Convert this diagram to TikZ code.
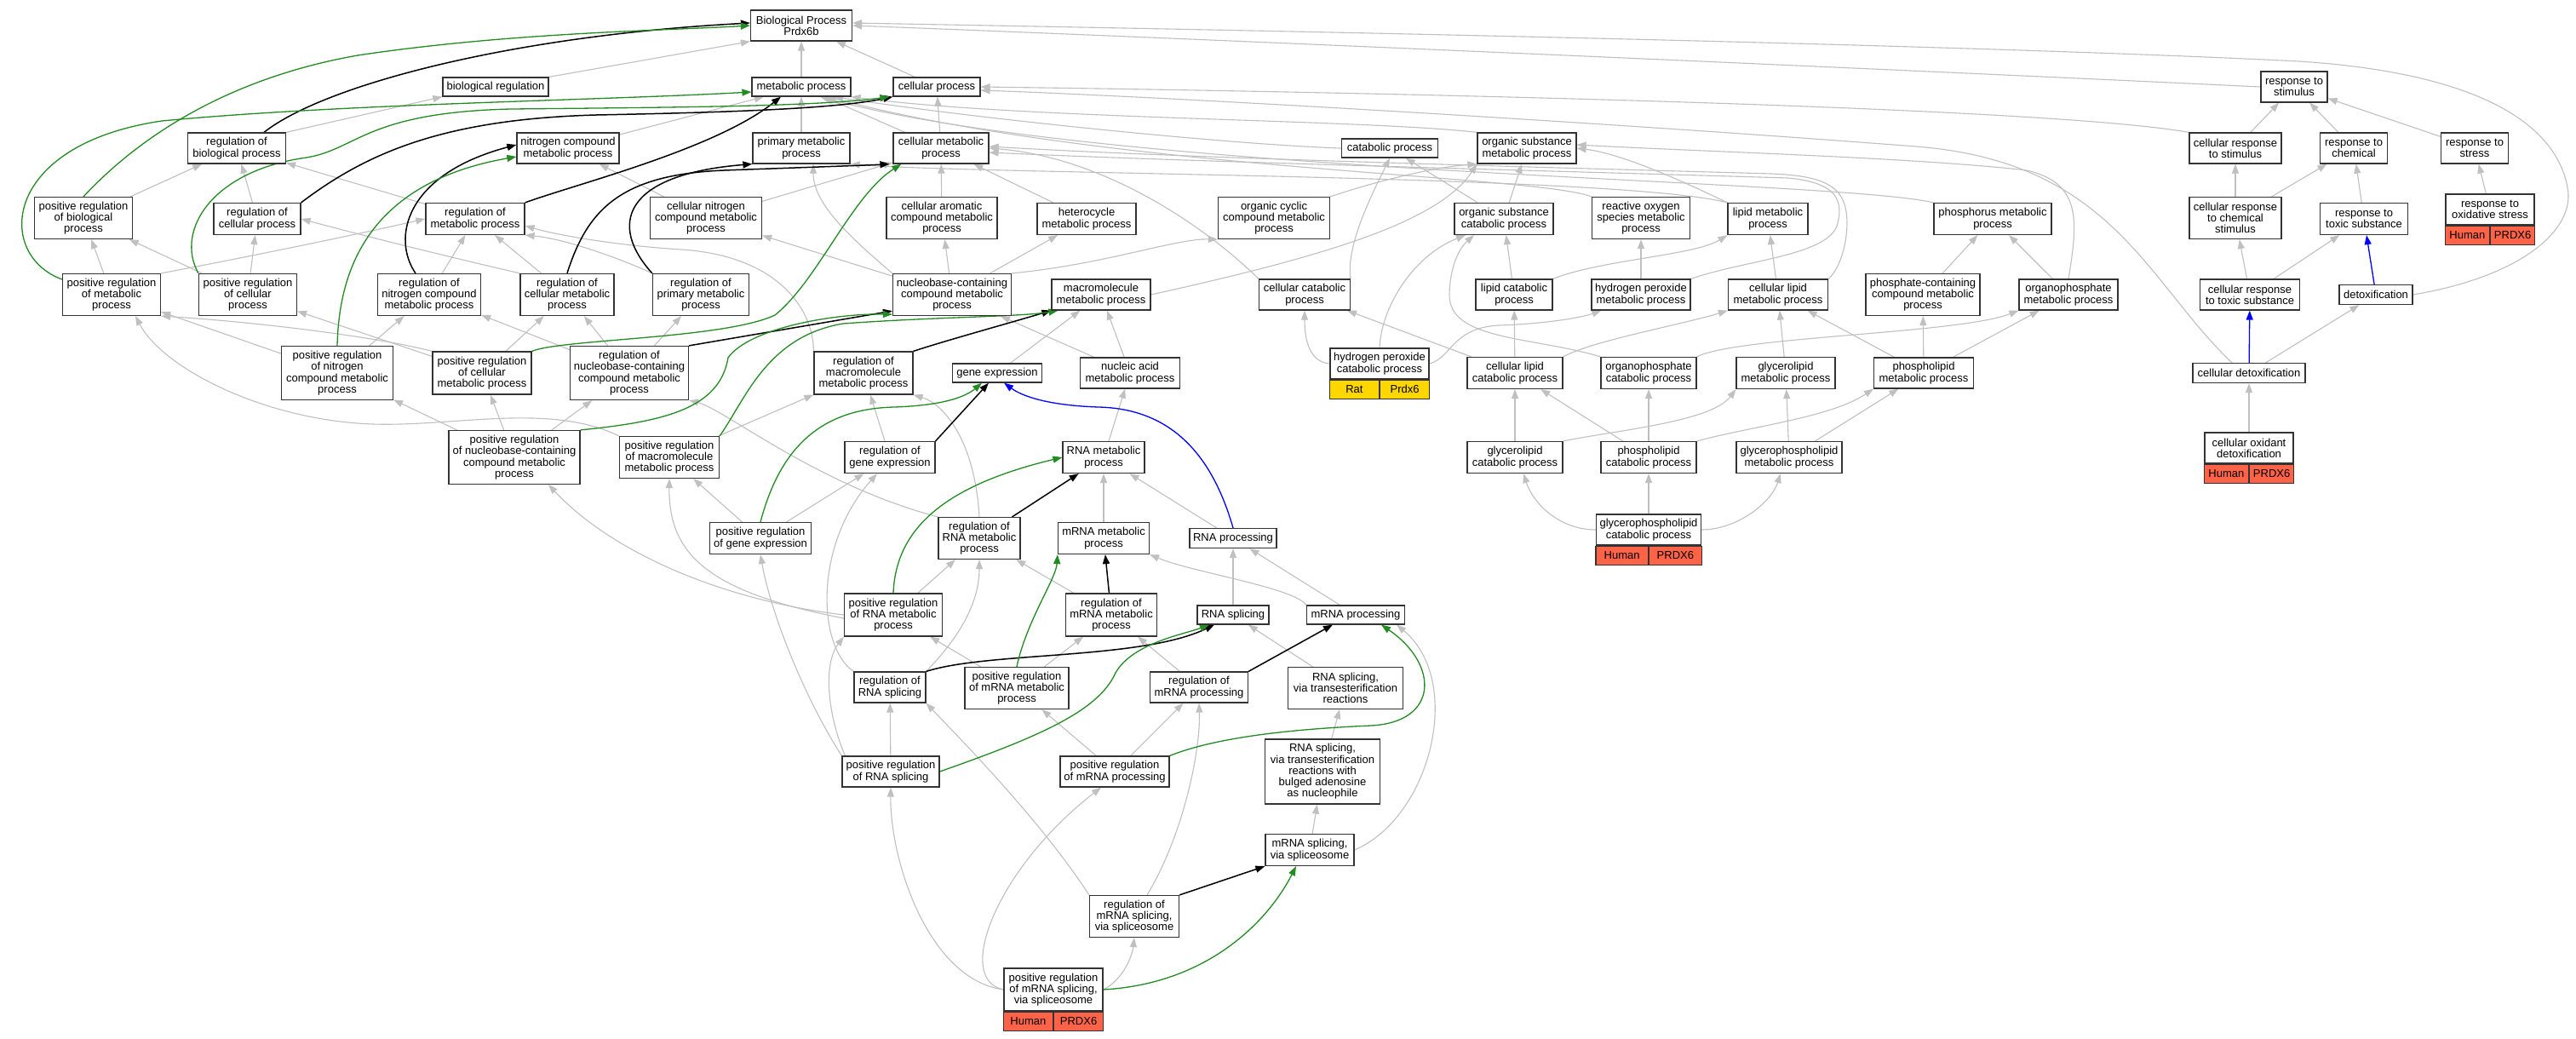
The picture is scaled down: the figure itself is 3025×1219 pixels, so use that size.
\documentclass[tikz,border=0pt]{standalone}
\usepackage{fontspec}
\setmainfont{Liberation Sans}
\usepackage{tikz}
\usetikzlibrary{arrows.meta, positioning, backgrounds}
\definecolor{isagray}{HTML}{C0C0C0}
\definecolor{posgreen}{HTML}{228B22}
\definecolor{humanred}{HTML}{FF6347}
\definecolor{ratgold}{HTML}{FFD700}
\tikzstyle{term} = [rectangle, draw=black!80, line width=1.2pt, fill=white, align=center, inner xsep=1pt, inner ysep=1pt, font=\fontsize{13}{13.3}\selectfont]
\tikzstyle{genecell} = [rectangle, draw=black!80, line width=1.2pt, inner sep=0pt, minimum height=22, font=\fontsize{13}{13.3}\selectfont]
\tikzstyle{isa} = [draw=isagray, line width=1.1pt, -{Triangle[length=11pt, width=8pt]}]
\tikzstyle{regl} = [draw=black, line width=1.5pt, -{Triangle[length=11pt, width=8pt]}]
\tikzstyle{posreg} = [draw=posgreen, line width=1.3pt, -{Triangle[length=11pt, width=8pt]}]
\tikzstyle{partof} = [draw=blue, line width=1.3pt, -{Triangle[length=11pt, width=8pt]}]
\begin{document}
\begin{tikzpicture}[x=1pt, y=-1pt]
    \useasboundingbox (0,0) rectangle (3025,1219);

    % top rows
    \node[term, minimum width=119, minimum height=36] (bp) at (941,30) {Biological Process\\Prdx6b};
    \node[term, minimum width=124, minimum height=22] (bioreg) at (582,102) {biological regulation};
    \node[term, minimum width=116, minimum height=22] (metab) at (941,102) {metabolic process};
    \node[term, minimum width=102, minimum height=22] (cellp) at (1100,102) {cellular process};
    \node[term, minimum width=78, minimum height=36] (respstim) at (2694,102) {response to\\stimulus};

    \node[term, minimum width=115, minimum height=36] (regbio) at (278,174) {regulation of\\biological process};
    \node[term, minimum width=120, minimum height=36] (nitro) at (667,174) {nitrogen compound\\metabolic process};
    \node[term, minimum width=114, minimum height=36] (primary) at (941,174) {primary metabolic\\process};
    \node[term, minimum width=112, minimum height=36] (cellmet) at (1105,174) {cellular metabolic\\process};
    \node[term, minimum width=113, minimum height=22] (catab) at (1632,174) {catabolic process};
    \node[term, minimum width=116, minimum height=36] (orgsub) at (1793,174) {organic substance\\metabolic process};
    \node[term, minimum width=108, minimum height=36] (cellrespstim) at (2625,174) {cellular response\\to stimulus};
    \node[term, minimum width=79, minimum height=36] (respchem) at (2764,174) {response to\\chemical};
    \node[term, minimum width=79, minimum height=36] (respstress) at (2906,174) {response to\\stress};

    \node[term, minimum width=115, minimum height=49] (posregbio) at (98,256) {positive regulation\\of biological\\process};
    \node[term, minimum width=102, minimum height=37] (regcell) at (302,257) {regulation of\\cellular process};
    \node[term, minimum width=116, minimum height=37] (regmet) at (558,257) {regulation of\\metabolic process};
    \node[term, minimum width=131, minimum height=49] (cellnitro) at (829,256) {cellular nitrogen\\compound metabolic\\process};
    \node[term, minimum width=130, minimum height=49] (cellarom) at (1106,256) {cellular aromatic\\compound metabolic\\process};
    \node[term, minimum width=116, minimum height=37] (hetero) at (1276,257) {heterocycle\\metabolic process};
    \node[term, minimum width=131, minimum height=49] (orgcyc) at (1496,256) {organic cyclic\\compound metabolic\\process};
    \node[term, minimum width=116, minimum height=37] (orgsubcat) at (1766,257) {organic substance\\catabolic process};
    \node[term, minimum width=115, minimum height=49] (ros) at (1927,256) {reactive oxygen\\species metabolic\\process};
    \node[term, minimum width=94, minimum height=37] (lipid) at (2076,257) {lipid metabolic\\process};
    \node[term, minimum width=138, minimum height=37] (phosphorus) at (2340,257) {phosphorus metabolic\\process};
    \node[term, minimum width=108, minimum height=49] (cellrespchem) at (2625,256) {cellular response\\to chemical\\stimulus};
    \node[term, minimum width=103, minimum height=37] (resptoxic) at (2776,257) {response to\\toxic substance};
    \node[term, minimum width=104, minimum height=36] (respox) at (2924,246) {response to\\oxidative stress};
    \node[genecell, fill=humanred, minimum width=52, anchor=north east] (respoxsp) at (respox.south) {Human};
    \node[genecell, fill=humanred, minimum width=52, anchor=north west] (respoxgn) at (respox.south) {PRDX6};

    \node[term, minimum width=115, minimum height=49] (posregmet) at (131,346) {positive regulation\\of metabolic\\process};
    \node[term, minimum width=115, minimum height=49] (posregcell) at (291,346) {positive regulation\\of cellular\\process};
    \node[term, minimum width=121, minimum height=49] (regnitro) at (504,346) {regulation of\\nitrogen compound\\metabolic process};
    \node[term, minimum width=110, minimum height=49] (regcellmet) at (666,346) {regulation of\\cellular metabolic\\process};
    \node[term, minimum width=113, minimum height=49] (regprim) at (823,346) {regulation of\\primary metabolic\\process};
    \node[term, minimum width=139, minimum height=49] (nucleo) at (1118,346) {nucleobase-containing\\compound metabolic\\process};
    \node[term, minimum width=116, minimum height=36] (macro) at (1293,346) {macromolecule\\metabolic process};
    \node[term, minimum width=107, minimum height=36] (cellcat) at (1532,346) {cellular catabolic\\process};
    \node[term, minimum width=90, minimum height=36] (lipidcat) at (1778,346) {lipid catabolic\\process};
    \node[term, minimum width=116, minimum height=36] (hpmet) at (1927,346) {hydrogen peroxide\\metabolic process};
    \node[term, minimum width=117, minimum height=36] (celllipid) at (2088,346) {cellular lipid\\metabolic process};
    \node[term, minimum width=134, minimum height=49] (phosphate) at (2258,346) {phosphate-containing\\compound metabolic\\process};
    \node[term, minimum width=116, minimum height=36] (orgphos) at (2429,346) {organophosphate\\metabolic process};
    \node[term, minimum width=117, minimum height=36] (cellresptox) at (2642,346) {cellular response\\to toxic substance};
    \node[term, minimum width=86, minimum height=23] (detox) at (2790,346) {detoxification};

    % middle rows
    \node[term, minimum width=131, minimum height=63] (posregnitro) at (396,438) {positive regulation\\of nitrogen\\compound metabolic\\process};
    \node[term, minimum width=116, minimum height=50] (posregcellmet) at (566,438) {positive regulation\\of cellular\\metabolic process};
    \node[term, minimum width=139, minimum height=63] (regnucleo) at (739,438) {regulation of\\nucleobase-containing\\compound metabolic\\process};
    \node[term, minimum width=116, minimum height=50] (regmacro) at (1014,438) {regulation of\\macromolecule\\metabolic process};
    \node[term, minimum width=105, minimum height=22] (geneexp) at (1171,438) {gene expression};
    \node[term, minimum width=117, minimum height=36] (nucacid) at (1327,438) {nucleic acid\\metabolic process};
    \node[term, minimum width=116, minimum height=36] (hpcat) at (1620,427) {hydrogen peroxide\\catabolic process};
    \node[genecell, fill=ratgold, minimum width=58, anchor=north east] (hpcatsp) at (hpcat.south) {Rat};
    \node[genecell, fill=ratgold, minimum width=58, anchor=north west] (hpcatgn) at (hpcat.south) {Prdx6};
    \node[term, minimum width=112, minimum height=37] (celllipidcat) at (1779,438) {cellular lipid\\catabolic process};
    \node[term, minimum width=112, minimum height=37] (orgphoscat) at (1936,438) {organophosphate\\catabolic process};
    \node[term, minimum width=116, minimum height=37] (glycerolipid) at (2097,438) {glycerolipid\\metabolic process};
    \node[term, minimum width=117, minimum height=36] (phospholipid) at (2259,438) {phospholipid\\metabolic process};
    \node[term, minimum width=132, minimum height=23] (celldetox) at (2641,438) {cellular detoxification};

    \node[term, minimum width=154, minimum height=63] (posregnucleo) at (604,537) {positive regulation\\of nucleobase-containing\\compound metabolic\\process};
    \node[term, minimum width=117, minimum height=49] (posregmacro) at (786,537) {positive regulation\\of macromolecule\\metabolic process};
    \node[term, minimum width=106, minimum height=37] (reggene) at (1045,537) {regulation of\\gene expression};
    \node[term, minimum width=96, minimum height=37] (rnamet) at (1296,537) {RNA metabolic\\process};
    \node[term, minimum width=112, minimum height=37] (glycerolipidcat) at (1779,537) {glycerolipid\\catabolic process};
    \node[term, minimum width=112, minimum height=37] (phospholipidcat) at (1936,537) {phospholipid\\catabolic process};
    \node[term, minimum width=124, minimum height=37] (glycerophos) at (2101,537) {glycerophospholipid\\metabolic process};
    \node[term, minimum width=104, minimum height=36] (celloxdetox) at (2641,526) {cellular oxidant\\detoxification};
    \node[genecell, fill=humanred, minimum width=52, anchor=north east] (celloxdetoxsp) at (celloxdetox.south) {Human};
    \node[genecell, fill=humanred, minimum width=52, anchor=north west] (celloxdetoxgn) at (celloxdetox.south) {PRDX6};

    \node[term, minimum width=119, minimum height=37] (posreggene) at (893,632) {positive regulation\\of gene expression};
    \node[term, minimum width=96, minimum height=49] (regrna) at (1150,632) {regulation of\\RNA metabolic\\process};
    \node[term, minimum width=107, minimum height=37] (mrnamet) at (1296,632) {mRNA metabolic\\process};
    \node[term, minimum width=102, minimum height=23] (rnaproc) at (1448,632) {RNA processing};
    \node[term, minimum width=123, minimum height=36] (glycerophoscat) at (1936,622) {glycerophospholipid\\catabolic process};
    \node[genecell, fill=humanred, minimum width=61.5, anchor=north east] (glycerophoscatsp) at (glycerophoscat.south) {Human};
    \node[genecell, fill=humanred, minimum width=61.5, anchor=north west] (glycerophoscatgn) at (glycerophoscat.south) {PRDX6};

    % lower rows
    \node[term, minimum width=115, minimum height=50] (posregrna) at (1049,722) {positive regulation\\of RNA metabolic\\process};
    \node[term, minimum width=107, minimum height=50] (regmrnamet) at (1305,722) {regulation of\\mRNA metabolic\\process};
    \node[term, minimum width=84, minimum height=22] (rnasplice) at (1448,722) {RNA splicing};
    \node[term, minimum width=115, minimum height=22] (mrnaproc) at (1592,722) {mRNA processing};

    \node[term, minimum width=84, minimum height=36] (regrnasplice) at (1045,807) {regulation of\\RNA splicing};
    \node[term, minimum width=122, minimum height=49] (posregmrnamet) at (1194,808) {positive regulation\\of mRNA metabolic\\process};
    \node[term, minimum width=115, minimum height=36] (regmrnaproc) at (1408,807) {regulation of\\mRNA processing};
    \node[term, minimum width=135, minimum height=49] (transest) at (1580,808) {RNA splicing,\\via transesterification\\reactions};

    \node[term, minimum width=114, minimum height=36] (posregrnasplice) at (1046,906) {positive regulation\\of RNA splicing};
    \node[term, minimum width=128, minimum height=36] (posregmrnaproc) at (1309,906) {positive regulation\\of mRNA processing};
    \node[term, minimum width=135, minimum height=76] (bulged) at (1553,906) {RNA splicing,\\via transesterification\\reactions with\\bulged adenosine\\as nucleophile};
    \node[term, minimum width=104, minimum height=37] (spliceo) at (1538,998) {mRNA splicing,\\via spliceosome};
    \node[term, minimum width=105, minimum height=49] (regsplice) at (1332,1076) {regulation of\\mRNA splicing,\\via spliceosome};
    \node[term, minimum width=116, minimum height=50] (posregsplice) at (1237,1162) {positive regulation\\of mRNA splicing,\\via spliceosome};
    \node[genecell, fill=humanred, minimum width=58, anchor=north east] (posregsplicesp) at (posregsplice.south) {Human};
    \node[genecell, fill=humanred, minimum width=58, anchor=north west] (posregsplicegn) at (posregsplice.south) {PRDX6};

    \begin{scope}[on background layer]
    \fill[white] (0,0) rectangle (3025,1219);

    % is_a
    \draw[isa] (bioreg.north east) -- (bp.south west);
    \draw[isa] (metab) -- (bp);
    \draw[isa] (cellp) -- (bp);
    \draw[isa] (respstim.west) .. controls (2300,85) and (1400,45) .. (bp.east);
    \draw[isa] (detox.east) .. controls (2960,325) and (3025,270) .. (3015,220) .. controls (3000,140) and (2900,85) .. (2700,72) .. controls (2300,52) and (1500,36) .. ([yshift=3]bp.east);
    \draw[isa] (regbio.north east) -- (bioreg.south west);
    \draw[isa] (posregbio) -- (regbio);
    \draw[isa] (nitro) -- (metab);
    \draw[isa] (primary) -- (metab);
    \draw[isa] (cellmet) -- (metab);
    \draw[isa] (cellmet) -- (cellp);
    \draw[isa] (regcell) -- (regbio);
    \draw[isa] (regmet) -- (regbio);
    \draw[isa] (posregmet) -- (posregbio);
    \draw[isa] (posregmet.north east) .. controls (300,300) and (420,275) .. (regmet.west);
    \draw[isa] (posregcell) -- (posregbio);
    \draw[isa] (posregcell) -- (regcell);
    \draw[isa] (regnitro) -- (regmet);
    \draw[isa] (regcellmet) -- (regmet);
    \draw[isa] (regcellmet.north west) .. controls (520,300) and (420,275) .. (regcell.east);
    \draw[isa] (regprim.north west) .. controls (720,300) and (660,280) .. (regmet.south east);
    \draw[isa] (cellnitro) -- (nitro);
    \draw[isa] (cellnitro) -- (cellmet);
    \draw[isa] (cellarom) -- (cellmet);
    \draw[isa] (hetero) -- (cellmet);
    \draw[isa] (orgcyc.north east) .. controls (1640,205) and (1700,195) .. (orgsub.south west);
    \draw[isa] (nucleo) -- (cellnitro);
    \draw[isa] (nucleo) -- (cellarom);
    \draw[isa] (nucleo) -- (hetero);
    \draw[isa] (nucleo.north east) .. controls (1300,310) and (1380,280) .. (orgcyc.south west);
    \draw[isa] (nucleo.north west) .. controls (1000,280) and (955,240) .. ([xshift=14]primary.south);
    \draw[isa] (macro.east) .. controls (1560,300) and (1690,260) .. (orgsub.south west);
    \draw[isa] (cellcat.north east) .. controls (1580,290) and (1610,230) .. (catab.south);
    \draw[isa] (cellcat.north west) .. controls (1420,270) and (1300,185) .. (cellmet.east);
    \draw[isa] (orgsubcat) -- (catab);
    \draw[isa] (orgsubcat) -- (orgsub);
    \draw[isa] (ros.north west) .. controls (1800,205) and (1300,200) .. ([xshift=30]metab.south);
    \draw[isa] (catab.west) .. controls (1450,170) and (1150,140) .. ([xshift=38]metab.south);
    \draw[isa] (orgsub.north west) .. controls (1600,140) and (1200,140) .. (metab.south east);
    \draw[isa] (phosphorus.north west) .. controls (2150,210) and (1300,205) .. ([xshift=22]metab.south);
    \draw[isa] (lipid.north west) .. controls (1960,205) and (1900,180) .. (orgsub.east);
    \draw[isa] (lipid.north west) .. controls (1900,205) and (1150,205) .. (primary.south east);
    \draw[isa] (orgphos.north) .. controls (2440,260) and (2445,215) .. (2380,200) .. controls (2250,185) and (2000,178) .. ([yshift=4]orgsub.east);
    \draw[isa] (orgphos) -- (phosphorus);
    \draw[isa] (phosphate) -- (phosphorus);
    \draw[isa] (lipidcat) -- (orgsubcat);
    \draw[isa] (lipidcat.north east) .. controls (1880,305) and (1990,300) .. (lipid.south west);
    \draw[isa] (hpmet) -- (ros);
    \draw[isa] (hpmet.north east) .. controls (2050,305) and (2150,300) .. (2158,262) .. controls (2166,230) and (2150,214) .. (2100,209) .. controls (1800,200) and (1400,190) .. ([yshift=-5]cellmet.east);
    \draw[isa] (celllipid.north east) .. controls (2165,312) and (2174,265) .. (2166,240) .. controls (2158,214) and (2130,206) .. (2080,204) .. controls (1800,196) and (1400,186) .. ([yshift=2]cellmet.east);
    \draw[isa] (celllipid) -- (lipid);
    \draw[isa] (cellrespstim.north west) .. controls (2400,125) and (1600,108) .. (cellp.east);
    \draw[isa] ([xshift=-20]celldetox.north) .. controls (2520,330) and (2480,190) .. (2250,172) .. controls (1900,145) and (1400,115) .. ([yshift=-4]cellp.east);
    \draw[isa] (cellrespstim) -- (respstim);
    \draw[isa] (respchem) -- (respstim);
    \draw[isa] (respstress) -- (respstim);
    \draw[isa] (cellrespchem) -- (cellrespstim);
    \draw[isa] (cellrespchem) -- (respchem);
    \draw[isa] (resptoxic) -- (respchem);
    \draw[isa] (respox) -- (respstress);
    \draw[isa] (cellresptox) -- (cellrespchem);
    \draw[isa] (cellresptox) -- (resptoxic);
    \draw[isa] (celldetox) -- (detox);
    \draw[isa] (celloxdetox) -- (celldetox);

    \draw[isa] (geneexp) -- (macro);
    \draw[isa] (nucacid) -- (nucleo);
    \draw[isa] (nucacid) -- (macro);
    \draw[isa] (rnamet) -- (nucacid);
    \draw[isa] (mrnamet) -- (rnamet);
    \draw[isa] (rnaproc) -- (rnamet);
    \draw[isa] (rnasplice) -- (rnaproc);
    \draw[isa] (mrnaproc) -- (rnaproc);
    \draw[isa] (mrnaproc.north west) .. controls (1520,690) and (1400,672) .. (mrnamet.south east);
    \draw[isa] (transest) -- (rnasplice);
    \draw[isa] (bulged) -- (transest);
    \draw[isa] (spliceo) -- (bulged);
    \draw[isa] (spliceo.east) .. controls (1680,960) and (1720,800) .. ([xshift=-10]mrnaproc.south east);

    \draw[isa] (posregnitro) -- (posregmet);
    \draw[isa] (posregnitro) -- (regnitro);
    \draw[isa] (posregcellmet) -- (posregcell);
    \draw[isa] (posregcellmet.north west) .. controls (440,395) and (300,378) .. (posregmet.south east);
    \draw[isa] (posregcellmet) -- (regcellmet);
    \draw[isa] (regnucleo) -- (regnitro);
    \draw[isa] (regnucleo) -- (regcellmet);
    \draw[isa] (regnucleo) -- (regprim);
    \draw[isa] (posregnucleo) -- (posregnitro);
    \draw[isa] (posregnucleo) -- (posregcellmet);
    \draw[isa] (posregnucleo) -- (regnucleo);
    \draw[isa] (posregmacro.north west) .. controls (640,470) and (520,505) .. (420,497) .. controls (300,488) and (190,430) .. ([xshift=28]posregmet.south);
    \draw[isa] (posregmacro) -- (regmacro);
    \draw[isa] (regmacro.north west) .. controls (955,360) and (910,300) .. (800,293) .. controls (720,288) and (650,275) .. ([yshift=-8]regmet.east);
    \draw[isa] (reggene) -- (regmacro);
    \draw[isa] (posreggene) -- (reggene);
    \draw[isa] (posreggene) -- (posregmacro);
    \draw[isa] (regrna.north west) .. controls (960,570) and (850,480) .. (regnucleo.south east);
    \draw[isa] (regrna.north) .. controls (1145,520) and (1110,475) .. (regmacro.south east);
    \draw[isa] (posregrna) -- (regrna);
    \draw[isa] (posregrna.west) .. controls (850,705) and (720,650) .. ([xshift=40]posregnucleo.south);
    \draw[isa] ([yshift=-4]posregrna.west) .. controls (830,695) and (785,650) .. (posregmacro.south);
    \draw[isa] (regmrnamet) -- (regrna);
    \draw[isa] (posregmrnamet) -- (posregrna);
    \draw[isa] (posregmrnamet) -- (regmrnamet);
    \draw[isa] (regrnasplice.north east) .. controls (1110,765) and (1150,720) .. (regrna.south);
    \draw[isa] (regrnasplice.north west) .. controls (960,760) and (955,640) .. ([xshift=-15]reggene.south);
    \draw[isa] (posregrnasplice) -- (regrnasplice);
    \draw[isa] (posregrnasplice.north west) .. controls (945,820) and (905,720) .. (posreggene.south);
    \draw[isa] ([xshift=4]posregrnasplice.north west) .. controls (972,840) and (966,780) .. (posregrna.south west);
    \draw[isa] (regmrnaproc) -- (regmrnamet);
    \draw[isa] (posregmrnaproc) -- (posregmrnamet);
    \draw[isa] (posregmrnaproc) -- (regmrnaproc);
    \draw[isa] (regsplice.north west) .. controls (1220,960) and (1120,860) .. (regrnasplice.south east);
    \draw[isa] ([xshift=15]regsplice.north) .. controls (1390,980) and (1410,880) .. (regmrnaproc.south);
    \draw[isa] (posregsplice.west) .. controls (1090,1150) and (1045,1010) .. (posregrnasplice.south);
    \draw[isa] (posregsplice.west) .. controls (1120,1150) and (1170,1020) .. ([xshift=-16]posregmrnaproc.south);
    \draw[isa] (posregsplice.east) .. controls (1320,1150) and (1330,1120) .. (regsplice.south);

    \draw[isa] (celllipidcat) -- (cellcat);
    \draw[isa] (celllipidcat) -- (lipidcat);
    \draw[isa] (celllipidcat.north east) .. controls (1870,400) and (1980,380) .. (celllipid.south west);
    \draw[isa] (orgphoscat.north west) .. controls (1800,395) and (1700,400) .. (1702,345) .. controls (1703,310) and (1715,290) .. ([xshift=-35]orgsubcat.south);
    \draw[isa] (orgphoscat.north east) .. controls (2040,395) and (2300,392) .. (orgphos.south west);
    \draw[isa] (hpcat.west) .. controls (1538,425) and (1532,400) .. (cellcat.south);
    \draw[isa] (hpcat.north) .. controls (1622,360) and (1660,300) .. ([xshift=-45]orgsubcat.south);
    \draw[isa] (hpcat.east) .. controls (1705,420) and (1705,385) .. (1760,382) .. controls (1820,380) and (1860,372) .. ([xshift=12]hpmet.south west);
    \draw[isa] (glycerolipid) -- (celllipid);
    \draw[isa] (phospholipid) -- (celllipid);
    \draw[isa] (phospholipid) -- (phosphate);
    \draw[isa] (phospholipid) -- (orgphos);
    \draw[isa] (glycerolipidcat) -- (celllipidcat);
    \draw[isa] (glycerolipidcat.north east) .. controls (1900,505) and (2010,495) .. (glycerolipid.south west);
    \draw[isa] (phospholipidcat) -- (celllipidcat);
    \draw[isa] (phospholipidcat) -- (orgphoscat);
    \draw[isa] (phospholipidcat.north east) .. controls (2060,500) and (2150,490) .. (phospholipid.south west);
    \draw[isa] (glycerophos) -- (glycerolipid);
    \draw[isa] (glycerophos) -- (phospholipid);
    \draw[isa] (glycerophoscat.west) .. controls (1830,622) and (1800,590) .. ([xshift=10]glycerolipidcat.south);
    \draw[isa] (glycerophoscat) -- (phospholipidcat);
    \draw[isa] (glycerophoscat.east) .. controls (2040,622) and (2080,590) .. ([xshift=-10]glycerophos.south);

    % regulates
    \draw[regl] ([xshift=32]regbio.north) .. controls (380,100) and (600,42) .. ([yshift=3]bp.west);
    \draw[regl] (regcell.north east) .. controls (430,180) and (520,140) .. (700,135) .. controls (850,132) and (980,128) .. (cellp.south west);
    \draw[regl] (regmet.north east) .. controls (680,215) and (840,175) .. ([xshift=-24]metab.south);
    \draw[regl] ([xshift=-16]regnitro.north) .. controls (460,280) and (475,205) .. ([yshift=4]nitro.west);
    \draw[regl] (regcellmet.north) .. controls (690,245) and (730,205) .. (850,200) .. controls (960,196) and (1020,194) .. ([xshift=-4]cellmet.south west);
    \draw[regl] (regprim.north west) .. controls (715,265) and (730,205) .. (primary.south west);
    \draw[regl] (regnucleo.north east) -- ([yshift=6]nucleo.south west);
    \draw[regl] (regmacro.north east) .. controls (1110,400) and (1190,378) .. (macro.south west);
    \draw[regl] (reggene.north east) -- ([xshift=-10]geneexp.south);
    \draw[regl] (regrna) -- (rnamet);
    \draw[regl] (regmrnamet) -- (mrnamet);
    \draw[regl] (regrnasplice.north east) .. controls (1160,765) and (1340,775) .. ([xshift=-22]rnasplice.south);
    \draw[regl] (regmrnaproc.north east) -- ([xshift=-27]mrnaproc.south);
    \draw[regl] (regsplice.north east) -- (spliceo.south west);

    % positively regulates
    \draw[posreg] (posregbio.north) .. controls (150,175) and (250,95) .. (420,65) .. controls (600,38) and (780,36) .. (bp.west);
    \draw[posreg] ([yshift=18]posregmet.west) .. controls (-5,300) and (0,170) .. (190,142) .. controls (400,122) and (700,118) .. ([yshift=-6]metab.west);
    \draw[posreg] (posregcell.north west) .. controls (205,270) and (250,200) .. (360,185) .. controls (420,175) and (430,132) .. (600,128) .. controls (800,126) and (960,125) .. ([xshift=-4]cellp.south west);
    \draw[posreg] (posregnitro.north) .. controls (398,320) and (430,215) .. ([yshift=-10]nitro.west);
    \draw[posreg] (posregcellmet.north east) .. controls (660,398) and (850,398) .. (910,370) .. controls (960,330) and (1000,230) .. ([xshift=10]cellmet.south west);
    \draw[posreg] (posregnucleo.north east) .. controls (780,495) and (845,480) .. (855,420) .. controls (880,385) and (980,368) .. ([yshift=2]nucleo.south west);
    \draw[posreg] (posregmacro.north east) .. controls (875,470) and (900,395) .. (990,380) .. controls (1100,372) and (1200,372) .. ([xshift=8]macro.south west);
    \draw[posreg] (posreggene.north) .. controls (915,530) and (960,480) .. (1050,478) .. controls (1110,476) and (1135,465) .. ([xshift=-18]geneexp.south);
    \draw[posreg] (posregrna.north) .. controls (1052,620) and (1110,570) .. (rnamet.west);
    \draw[posreg] (posregmrnamet.north) .. controls (1205,730) and (1240,680) .. (mrnamet.south west);
    \draw[posreg] (posregrnasplice.east) .. controls (1220,865) and (1290,835) .. (1310,790) .. controls (1330,755) and (1390,745) .. ([xshift=-28]rnasplice.south);
    \draw[posreg] (posregmrnaproc.north east) .. controls (1430,865) and (1520,856) .. (1610,852) .. controls (1690,848) and (1690,780) .. ([xshift=30]mrnaproc.south);
    \draw[posreg] (posregsplice.east) .. controls (1420,1155) and (1490,1080) .. ([xshift=-16]spliceo.south);

    % part of
    \draw[partof] (rnaproc.north) .. controls (1425,540) and (1380,480) .. (1290,478) .. controls (1230,476) and (1200,465) .. ([xshift=8]geneexp.south);
    \draw[partof] (detox) -- (resptoxic);
    \draw[partof] (celldetox) -- (cellresptox);
    \end{scope}
\end{tikzpicture}
\end{document}
